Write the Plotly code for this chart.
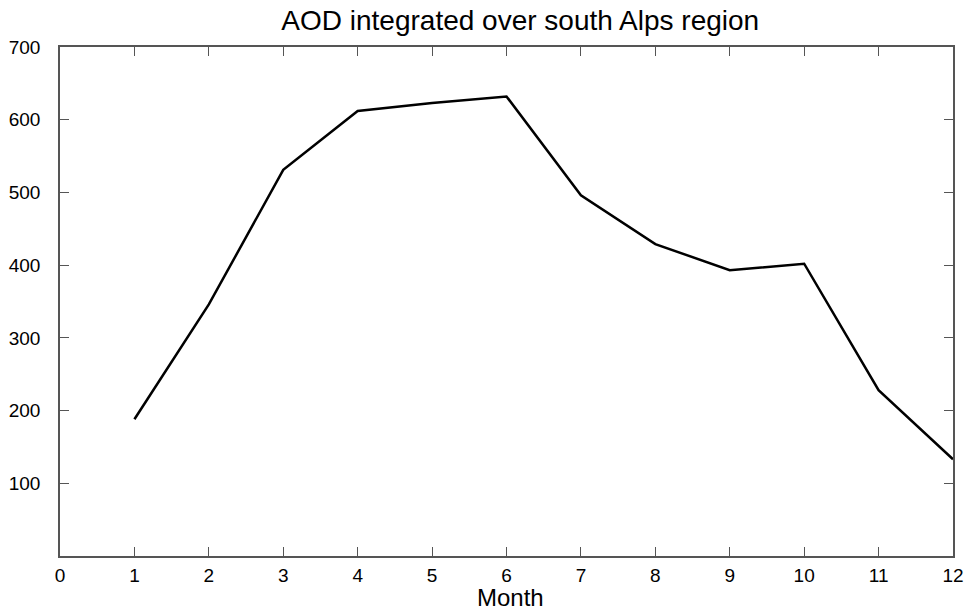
import plotly.graph_objects as go

months = [1, 2, 3, 4, 5, 6, 7, 8, 9, 10, 11, 12]
aod = [188, 346, 531, 612, 623, 632, 496, 429, 393, 402, 228, 133]
x_ticks = list(range(0, 13))
y_ticks = [100, 200, 300, 400, 500, 600, 700]

fig = go.Figure()
fig.add_trace(go.Scatter(x=months, y=aod, mode="lines",
                         line=dict(color="black", width=2.5), showlegend=False))

axis_common = dict(showline=True, linecolor="#555555", linewidth=1.5, mirror="ticks",
                   ticks="inside", ticklen=9, tickcolor="#555555", tickwidth=1,
                   showgrid=False, zeroline=False, automargin=False,
                   tickfont=dict(family="Liberation Sans, Arial", size=19, color="black"))

fig.update_layout(
    width=967, height=613,
    paper_bgcolor="white", plot_bgcolor="white",
    margin=dict(l=60, r=14, t=47, b=57),
    title=dict(text="AOD integrated over south Alps region", x=0.538, xanchor="center",
               y=0.967, yanchor="middle",
               font=dict(family="Liberation Sans, Arial", size=28, color="black")),
    xaxis=dict(range=[0, 12], tickvals=x_ticks, ticktext=[str(v) for v in x_ticks],
               ticklabelstandoff=1,
               **axis_common),
    yaxis=dict(range=[0, 700], tickvals=y_ticks, ticktext=[str(v) for v in y_ticks],
               ticklabelstandoff=14,
               **axis_common),
    annotations=[dict(text="Month", xref="paper", yref="paper", x=0.504, y=0,
                      xanchor="center", yanchor="top", yshift=-26, showarrow=False,
                      font=dict(family="Liberation Sans, Arial", size=24, color="black"))],
)

fig.write_html("out.html")
